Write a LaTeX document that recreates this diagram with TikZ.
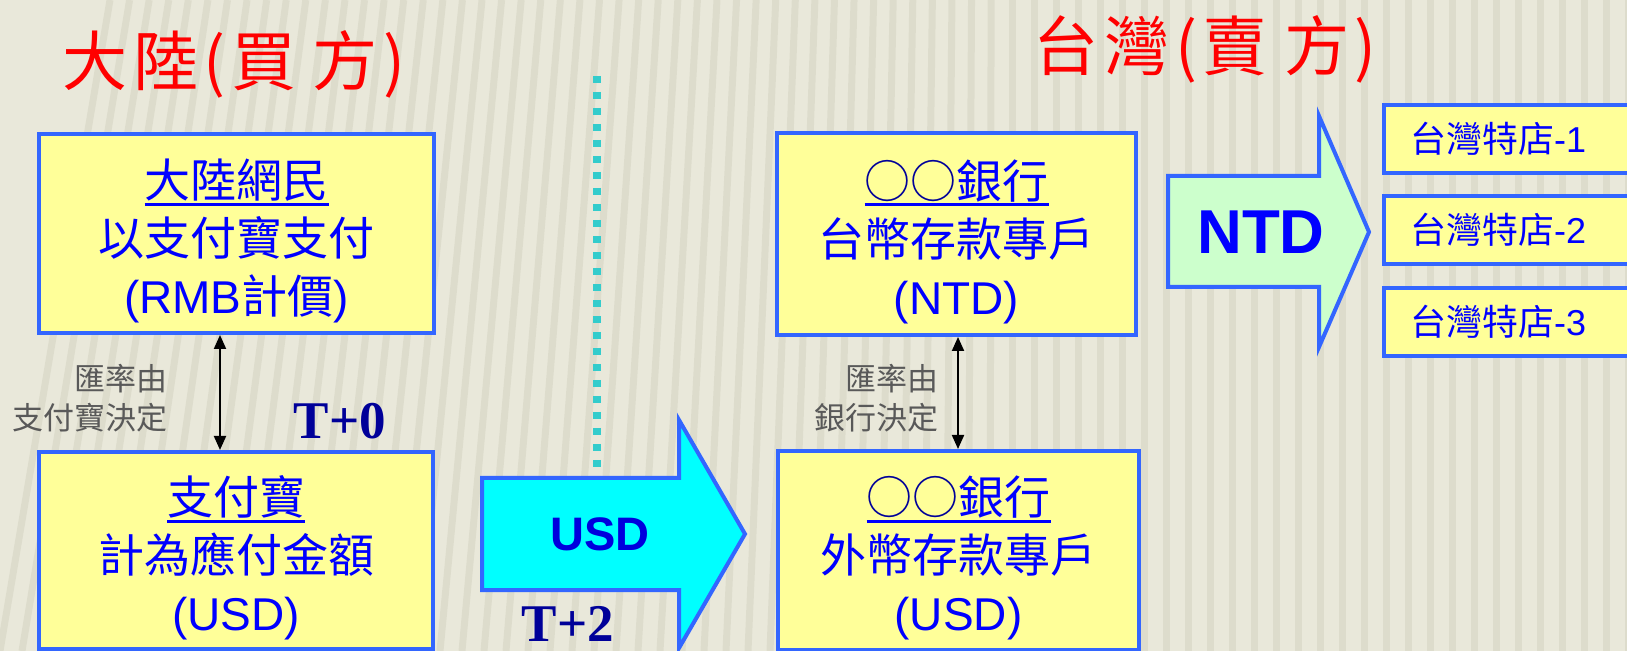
\documentclass[tikz,border=0pt]{standalone}
\usepackage{fontspec}
\setmainfont{Liberation Sans}
\newfontfamily\cjk{Noto Sans CJK TC}
\newfontfamily\tms{Liberation Serif}
\usetikzlibrary{arrows.meta,calc}
\definecolor{bgc}{HTML}{E9E8DA}
\definecolor{stripec}{HTML}{D3D2C0}
\definecolor{bordc}{HTML}{3366FF}
\definecolor{boxfill}{HTML}{FFFF99}
\definecolor{txtblue}{HTML}{0000FF}
\definecolor{usdblue}{HTML}{0000DD}
\definecolor{navy}{HTML}{000099}
\definecolor{dotc}{HTML}{33CCCC}
\definecolor{ntdfill}{HTML}{CCFFCC}
\definecolor{cyanfill}{HTML}{00FFFF}
\definecolor{graytxt}{HTML}{595959}
\definecolor{titlered}{HTML}{FF0000}
\newcommand\myul[1]{\leavevmode\setbox0\hbox{#1}\rlap{\rule[-4pt]{\wd0}{1.5pt}}\box0}
\newcommand\tsp{\hspace{3pt}}
\newcommand\topstrut{\rule{0pt}{27pt}}
\begin{document}
\begin{tikzpicture}[x=0.5pt,y=-0.5pt,
  acct/.style={draw=bordc,line width=2pt,fill=boxfill,align=center,text=txtblue,
    font=\fontsize{23pt}{29pt}\selectfont,inner sep=0pt},
  store/.style={draw=bordc,line width=2pt,fill=boxfill,text width=132pt,inner xsep=13pt,
    inner ysep=0pt,align=left,text=txtblue,font=\fontsize{18pt}{20pt}\selectfont,minimum height=34pt},
  titletxt/.style={text=titlered,font=\cjk\fontsize{32.5pt}{36pt}\selectfont,inner sep=0pt},
  rate/.style={align=right,text=graytxt,font=\cjk\fontsize{15.5pt}{19.5pt}\selectfont,inner sep=0pt},
  tlabel/.style={font=\tms\bfseries\fontsize{26.5pt}{30pt}\selectfont,text=navy,inner sep=0pt},
  dbl/.style={{Triangle[length=7pt,width=6pt]}-{Triangle[length=7pt,width=6pt]},line width=1pt,black},
  blockarrow/.style={draw=bordc,line width=2pt,line join=miter},
  dotline/.style={draw=dotc,line width=4pt,dash pattern=on 3.5pt off 4.5pt}]
\useasboundingbox (0,0) rectangle (1627,651);
% background
\fill[bgc] (0,0) rectangle (1627,651);
\foreach \i in {0,...,76}{
  \pgfmathsetmacro\xb{\i*22}
  \pgfmathsetmacro\sl{max(0,110-0.11*\xb)}
  \draw[stripec,line width=3.5pt,opacity=0.5] (\xb,651) -- (\xb+\sl,0);
}
% titles
\node[titletxt] (tl) at (234,64) {大\tsp 陸\tsp(\tsp 買\hspace{8pt}方\tsp)};
\node[titletxt] (tr) at (1205,49) {台\tsp 灣\tsp(\tsp 賣\hspace{8pt}方\tsp)};
% dotted divider
\coordinate (dtop) at (597,76);
\coordinate (dbot) at (597,477);
\draw[dotline] (dtop) -- (dbot);
% account boxes
\node[acct,minimum width=197.5pt,minimum height=99.5pt] (A) at (236.5,233.5)
  {\topstrut\myul{\cjk 大陸網民}\\{\cjk 以支付寶支付}\\(RMB{\cjk 計價})};
\node[acct,minimum width=197pt,minimum height=98.5pt] (B) at (236,550.5)
  {\topstrut\myul{\cjk 支付寶}\\{\cjk 計為應付金額}\\(USD)};
\node[acct,minimum width=179.5pt,minimum height=101pt] (C) at (956.5,234)
  {\topstrut\myul{\cjk{\color{navy}○○}銀行}\\{\cjk 台幣存款專戶}\\(NTD)};
\node[acct,minimum width=180.5pt,minimum height=99.5pt] (D) at (958.5,550.5)
  {\topstrut\myul{\cjk{\color{navy}○○}銀行}\\{\cjk 外幣存款專戶}\\(USD)};
% exchange-rate arrows
\coordinate (xl) at (220,0);
\coordinate (xr) at (958,0);
\draw[dbl] (A.south -| xl) -- (B.north -| xl);
\draw[dbl] (C.south -| xr) -- (D.north -| xr);
\node[rate,anchor=east] (la) at (168,398) {匯率由\\支付寶決定};
\node[rate,anchor=east] (lb) at (939,398) {匯率由\\銀行決定};
% timing labels
\node[tlabel] (t0) at (340,421) {T+0};
\node[tlabel] (t2) at (568,624) {T+2};
% USD block arrow
\draw[blockarrow,fill=cyanfill] (482,478) -- (679,478) -- (679,420) -- (745,534)
  -- (679,648) -- (679,590) -- (482,590) -- cycle;
\node[font=\bfseries\fontsize{23.5pt}{26pt}\selectfont,text=usdblue,inner sep=0pt] (usd) at (600,534) {USD};
% NTD block arrow
\draw[blockarrow,fill=ntdfill] (1168,176) -- (1319,176) -- (1319,116) -- (1369,232)
  -- (1319,347) -- (1319,287) -- (1168,287) -- cycle;
\node[font=\bfseries\fontsize{31pt}{34pt}\selectfont,text=txtblue,inner sep=0pt] (ntd) at (1261,232) {NTD};
% stores
\node[store] (s1) at (1542,139) {{\cjk 台灣特店}-1};
\node[store] (s2) at (1542,230) {{\cjk 台灣特店}-2};
\node[store] (s3) at (1542,322) {{\cjk 台灣特店}-3};
\end{tikzpicture}
\end{document}
